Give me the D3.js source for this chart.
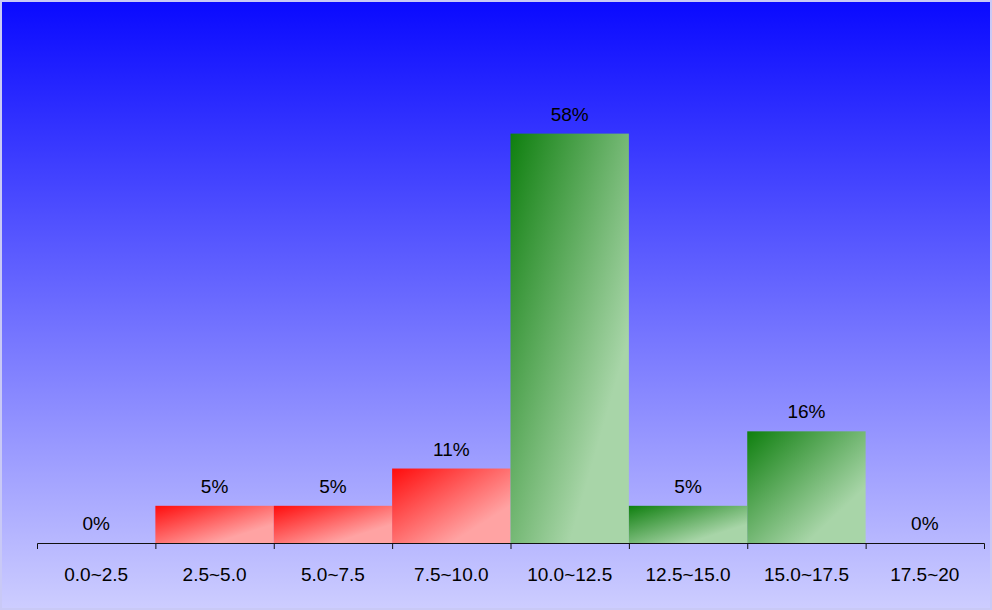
<!DOCTYPE html>
<html lang="en">
<head>
  <meta charset="UTF-8">
  <title>Histogram</title>
  <script src="https://d3js.org/d3.v7.min.js"></script>
  <style>
    body { margin: 0; background: #ffffff; }
    text { font-family: "Liberation Sans", Arial, sans-serif; }
  </style>
</head>
<body>
  <div id="chart"></div>
  <script>
    // bins and share of samples (%) in each bin
    const categories = ["0.0~2.5", "2.5~5.0", "5.0~7.5", "7.5~10.0", "10.0~12.5", "12.5~15.0", "15.0~17.5", "17.5~20"]
    const values = [0, 5.26, 5.26, 10.53, 57.89, 5.26, 15.79, 0]
    const groups = ["red", "red", "red", "red", "green", "green", "green", "green"]

    const width = 992, height = 610
    const margin = {top: 2, right: 8, bottom: 67, left: 37}

    const svg = d3.select("#chart").append("svg")
      .attr("width", width)
      .attr("height", height)

    const defs = svg.append("defs")

    const bg = defs.append("linearGradient")
      .attr("id", "bg").attr("x1", 0).attr("y1", 0).attr("x2", 0).attr("y2", 1)
    bg.append("stop").attr("offset", 0).attr("stop-color", "#0a0aff")
    bg.append("stop").attr("offset", 1).attr("stop-color", "#cdcdff")

    // diagonal fills, dark at top-left
    const fills = {
      red: ["#ff0c0c", "#ffa3a3"],
      green: ["#0f7f0f", "#a8d5a8"]
    }
    Object.keys(fills).forEach(k => {
      const g = defs.append("linearGradient")
        .attr("id", "fill-" + k).attr("x1", 0).attr("y1", 0).attr("x2", 1).attr("y2", 1)
      g.append("stop").attr("offset", 0).attr("stop-color", fills[k][0])
      g.append("stop").attr("offset", 0.75).attr("stop-color", fills[k][1])
      g.append("stop").attr("offset", 1).attr("stop-color", fills[k][1])
    })

    // frame + background
    svg.append("rect")
      .attr("width", width).attr("height", height)
      .attr("fill", "#c9c9f6")
    svg.append("rect")
      .attr("x", 2).attr("y", 2)
      .attr("width", width - 4).attr("height", height - 4)
      .attr("fill", "url(#bg)")

    const x = d3.scaleBand()
      .domain(categories)
      .range([margin.left, width - margin.right])
      .padding(0)

    const y = d3.scaleLinear()
      .domain([0, 76.5])
      .range([height - margin.bottom, margin.top])

    const g = svg.append("g")

    g.selectAll("rect.bar")
      .data(values)
      .join("rect")
      .attr("class", "bar")
      .attr("x", (d, i) => x(categories[i]))
      .attr("y", d => y(d))
      .attr("width", x.bandwidth())
      .attr("height", d => y(0) - y(d))
      .attr("fill", (d, i) => "url(#fill-" + groups[i] + ")")

    g.selectAll("text.val")
      .data(values)
      .join("text")
      .attr("class", "val")
      .attr("x", (d, i) => x(categories[i]) + x.bandwidth() / 2)
      .attr("y", d => y(d) - 13)
      .attr("text-anchor", "middle")
      .style("font-size", "19px")
      .attr("fill", "#000")
      .text(d => Math.round(d) + "%")

    const axis = svg.append("g")
      .attr("transform", "translate(0," + y(0) + ")")
      .call(d3.axisBottom(x).tickSizeInner(0).tickSizeOuter(6))

    axis.select(".domain").attr("stroke", "#111")
    axis.selectAll(".tick text")
      .attr("y", 38).attr("dy", null)
      .style("font-size", "19px")
      .style("font-family", "'Liberation Sans', Arial, sans-serif")
      .attr("fill", "#000")

    // tick marks on the bin edges
    axis.selectAll("line.edge")
      .data(categories.slice(1))
      .join("line")
      .attr("class", "edge")
      .attr("x1", d => x(d) + 0.5).attr("x2", d => x(d) + 0.5)
      .attr("y1", 0).attr("y2", 6)
      .attr("stroke", "#111")
  </script>
</body>
</html>
